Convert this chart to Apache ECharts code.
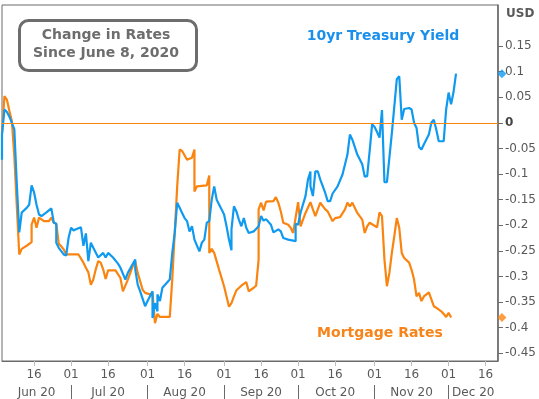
<!DOCTYPE html>
<html>
<head>
<meta charset="utf-8">
<script src="https://cdn.jsdelivr.net/npm/echarts@6/dist/echarts.min.js"></script>
<style>
html, body { margin: 0; padding: 0; background: #fff; }
#chart { width: 539px; height: 399px; }
</style>
</head>
<body>
<div id="chart"></div>
<script>
// 10yr Treasury yield, change since June 8 (dates are 2020 MM-DD)
var tsyDates = ['06-03','06-03','06-04','06-05','06-06','06-07','06-08','06-09','06-10','06-11','06-13','06-14','06-15','06-16','06-17','06-18','06-19','06-21','06-23','06-24','06-25','06-25','06-26','06-28','06-29','06-30',
	'07-01','07-02','07-03','07-05','07-06','07-07','07-08','07-09','07-10','07-12','07-14','07-15','07-16','07-18','07-20','07-21','07-23','07-24','07-27','07-27','07-28','07-29','07-31',
	'08-01','08-03','08-03','08-04','08-05','08-05','08-06','08-07','08-10','08-11','08-12','08-13','08-14','08-15','08-16','08-17','08-18','08-19','08-20','08-22','08-23','08-24','08-25','08-26','08-27','08-28','08-29','08-31',
	'09-01','09-02','09-03','09-04','09-04','09-05','09-06','09-07','09-08','09-09','09-10','09-11','09-13','09-15','09-16','09-17','09-18','09-20','09-21','09-23','09-24','09-25','09-27','09-30','09-30',
	'10-01','10-02','10-04','10-05','10-06','10-06','10-07','10-08','10-09','10-10','10-12','10-13','10-14','10-15','10-17','10-19','10-21','10-22','10-23','10-25','10-27','10-28','10-29','10-30','10-31',
	'11-01','11-02','11-03','11-04','11-05','11-06','11-07','11-08','11-09','11-10','11-11','11-12','11-13','11-15','11-16','11-17','11-18','11-19','11-20','11-21','11-23','11-24','11-25','11-26','11-27','11-29','11-30',
	'12-01','12-02','12-03','12-04'];
var tsyValues = [-0.072,-0.023,0.026,0.021,0.012,0.0,-0.013,-0.12,-0.214,-0.175,-0.166,-0.16,-0.122,-0.136,-0.16,-0.179,-0.182,-0.175,-0.167,-0.195,-0.197,-0.234,-0.244,-0.257,-0.259,-0.224,
	-0.205,-0.21,-0.208,-0.204,-0.24,-0.216,-0.27,-0.234,-0.244,-0.263,-0.254,-0.263,-0.254,-0.263,-0.275,-0.283,-0.306,-0.293,-0.267,-0.286,-0.316,-0.329,-0.358,
	-0.348,-0.329,-0.381,-0.352,-0.368,-0.335,-0.348,-0.322,-0.306,-0.254,-0.215,-0.156,-0.166,-0.176,-0.186,-0.192,-0.212,-0.202,-0.228,-0.251,-0.234,-0.228,-0.195,-0.192,-0.15,-0.124,-0.15,-0.169,
	-0.179,-0.202,-0.228,-0.249,-0.208,-0.163,-0.173,-0.189,-0.202,-0.186,-0.205,-0.215,-0.212,-0.202,-0.182,-0.191,-0.188,-0.199,-0.214,-0.208,-0.212,-0.225,-0.228,-0.231,-0.197,
	-0.199,-0.175,-0.143,-0.111,-0.095,-0.124,-0.143,-0.095,-0.095,-0.111,-0.137,-0.153,-0.153,-0.138,-0.124,-0.101,-0.062,-0.023,-0.033,-0.062,-0.081,-0.105,-0.104,-0.055,-0.003,
	-0.008,-0.018,-0.029,0.025,-0.116,-0.116,-0.068,-0.02,0.032,0.085,0.091,0.006,0.027,0.029,0.026,0.0,-0.01,-0.047,-0.052,-0.042,-0.023,0.0,0.006,-0.013,-0.036,-0.036,0.026,
	0.059,0.036,0.06,0.096];

// Mortgage rates, change since June 8
var mtgDates = ['06-03','06-04','06-05','06-06','06-07','06-08','06-09','06-10','06-11','06-13','06-15','06-15','06-16','06-17','06-18','06-20','06-22','06-23','06-24','06-25','06-26','06-27','06-28','06-29',
	'07-04','07-06','07-07','07-08','07-09','07-10','07-11','07-12','07-13','07-14','07-15','07-16','07-19','07-21','07-22','07-24','07-26','07-27','07-28','07-30','07-31',
	'08-02','08-03','08-04','08-05','08-06','08-10','08-11','08-12','08-13','08-14','08-15','08-17','08-19','08-20','08-20','08-21','08-25','08-26','08-26','08-27','08-28','08-30',
	'09-01','09-02','09-03','09-04','09-05','09-06','09-08','09-10','09-11','09-13','09-14','09-15','09-15','09-16','09-17','09-18','09-21','09-22','09-23','09-24','09-25','09-27','09-28','09-29',
	'10-01','10-02','10-04','10-06','10-07','10-08','10-10','10-12','10-13','10-15','10-16','10-18','10-20','10-21','10-22','10-23','10-25','10-27','10-28','10-29','10-30',
	'11-01','11-02','11-03','11-04','11-05','11-06','11-07','11-08','11-09','11-10','11-11','11-12','11-13','11-15','11-16','11-17','11-18','11-19','11-20','11-21','11-23','11-25','11-26','11-28','11-29','11-30',
	'12-01','12-02'];
var mtgValues = [-0.02,0.052,0.045,0.023,0.003,-0.065,-0.163,-0.257,-0.246,-0.24,-0.233,-0.199,-0.185,-0.205,-0.185,-0.192,-0.192,-0.185,-0.195,-0.197,-0.236,-0.241,-0.247,-0.257,
	-0.257,-0.273,-0.283,-0.292,-0.316,-0.306,-0.286,-0.27,-0.273,-0.286,-0.305,-0.288,-0.288,-0.303,-0.329,-0.306,-0.28,-0.27,-0.293,-0.326,-0.332,
	-0.335,-0.332,-0.391,-0.373,-0.379,-0.379,-0.306,-0.215,-0.124,-0.052,-0.055,-0.072,-0.068,-0.052,-0.134,-0.124,-0.122,-0.103,-0.254,-0.246,-0.254,-0.287,
	-0.319,-0.339,-0.359,-0.352,-0.339,-0.327,-0.318,-0.311,-0.329,-0.322,-0.318,-0.267,-0.169,-0.156,-0.171,-0.154,-0.153,-0.145,-0.156,-0.173,-0.195,-0.199,-0.205,-0.215,
	-0.155,-0.202,-0.176,-0.155,-0.169,-0.182,-0.156,-0.169,-0.173,-0.192,-0.186,-0.184,-0.169,-0.156,-0.163,-0.156,-0.176,-0.189,-0.215,-0.202,-0.195,
	-0.201,-0.204,-0.175,-0.182,-0.267,-0.319,-0.293,-0.254,-0.221,-0.186,-0.205,-0.254,-0.264,-0.273,-0.287,-0.306,-0.339,-0.332,-0.348,-0.339,-0.331,-0.358,-0.361,-0.368,-0.373,-0.379,
	-0.371,-0.38];

var dayTicks = ['06-16','07-01','07-16','08-01','08-16','09-01','09-16','10-01','10-16','11-01','11-16','12-01','12-16'];
var monthStarts = ['07-01','08-01','09-01','10-01','11-01','12-01'];
var monthLabelAt = ['06-17','07-16','08-16','09-16','10-16','11-16','12-11'];
var monthNames = ['Jan','Feb','Mar','Apr','May','Jun','Jul','Aug','Sep','Oct','Nov','Dec'];
var yLabels = [-0.45,-0.4,-0.35,-0.3,-0.25,-0.2,-0.15,-0.1,-0.05,0,0.05,0.1,0.15];

var blue = '#0f9af0', orange = '#fa8410', grey = '#595959';

function ts(s) {
	var p = s.split('-');
	return new Date(2020, +p[0] - 1, +p[1]).getTime();
}
function pairs(dates, values) {
	var out = [];
	for (var i = 0; i < dates.length; i++) out.push([ts(dates[i]), values[i]]);
	return out;
}

var xMin = ts('06-03'), xMax = ts('12-21');

var chart = echarts.init(document.getElementById('chart'));
chart.setOption({
	animation: false,
	grid: {left: 2, right: 39, top: 5, bottom: 38, show: true, borderColor: '#6a6a6a', borderWidth: 1},
	xAxis: [{
		type: 'value', min: xMin, max: xMax, position: 'bottom',
		axisLine: {show: true, onZero: false, lineStyle: {color: '#6a6a6a', width: 1}},
		axisTick: {show: true, customValues: dayTicks.map(ts), length: 5, lineStyle: {color: '#bdbdbd'}},
		axisLabel: {
			customValues: dayTicks.map(ts), margin: 8, color: grey, fontSize: 12, fontFamily: 'DejaVu Sans',
			formatter: function(v) { var d = new Date(v).getDate(); return (d < 10 ? '0' : '') + d; }
		},
		splitLine: {show: false}
	}, {
		type: 'value', min: xMin, max: xMax, position: 'bottom', offset: 24,
		axisLine: {show: false, onZero: false},
		axisTick: {show: true, customValues: monthStarts.map(ts), length: 16, lineStyle: {color: '#6a6a6a'}},
		axisLabel: {
			customValues: monthLabelAt.map(ts), margin: 2, color: grey, fontSize: 12, fontFamily: 'DejaVu Sans',
			formatter: function(v) { return monthNames[new Date(v).getMonth()] + ' 20'; }
		},
		splitLine: {show: false}
	}],
	yAxis: [{
		type: 'value', position: 'right', min: -0.465, max: 0.23,
		axisLine: {show: true, lineStyle: {color: '#6a6a6a', width: 1.5}},
		axisTick: {show: true, customValues: yLabels, length: 5, lineStyle: {color: '#6a6a6a'}},
		axisLabel: {
			customValues: yLabels, margin: 7, color: grey, fontSize: 12, fontFamily: 'DejaVu Sans',
			formatter: function(v) {
				var s = String(parseFloat(v.toFixed(2)));
				return s === '0' ? '{b|0}' : s;
			},
			rich: {b: {fontWeight: 'bold', color: '#444', fontSize: 12, fontFamily: 'DejaVu Sans'}}
		},
		splitLine: {show: false}
	}],
	series: [{
		name: 'Mortgage Rates', type: 'line', showSymbol: false, symbol: 'none',
		lineStyle: {color: orange, width: 2.2}, itemStyle: {color: orange},
		data: pairs(mtgDates, mtgValues),
		markLine: {
			silent: true, symbol: 'none', label: {show: false},
			lineStyle: {color: orange, width: 1, type: 'solid'},
			data: [{yAxis: 0}]
		}
	}, {
		name: '10yr Treasury Yield', type: 'line', showSymbol: false, symbol: 'none',
		lineStyle: {color: blue, width: 2.2}, itemStyle: {color: blue},
		data: pairs(tsyDates, tsyValues)
	}, {
		type: 'scatter', symbol: 'diamond', symbolSize: 9, symbolOffset: [4, 0], clip: false,
		itemStyle: {color: blue},
		data: [[xMax, tsyValues[tsyValues.length - 1]]]
	}, {
		type: 'scatter', symbol: 'diamond', symbolSize: 9, symbolOffset: [4, 0], clip: false,
		itemStyle: {color: orange},
		data: [[xMax, mtgValues[mtgValues.length - 1]]]
	}],
	graphic: [{
		type: 'rect', left: 18, top: 19,
		shape: {width: 177, height: 50, r: 9},
		style: {fill: '#fff', stroke: '#6d6d6d', lineWidth: 3}
	}, {
		type: 'text', x: 106, y: 44,
		style: {
			text: 'Change in Rates\nSince June 8, 2020', fill: '#6d6d6d', align: 'center', verticalAlign: 'middle',
			font: 'bold 14px "DejaVu Sans"', lineHeight: 18
		}
	}, {
		type: 'text', x: 383, y: 36,
		style: {text: '10yr Treasury Yield', fill: '#1a90ec', align: 'center', verticalAlign: 'middle', font: 'bold 14px "DejaVu Sans"'}
	}, {
		type: 'text', x: 380, y: 333,
		style: {text: 'Mortgage Rates', fill: '#f7841a', align: 'center', verticalAlign: 'middle', font: 'bold 14px "DejaVu Sans"'}
	}, {
		type: 'text', x: 506, y: 14,
		style: {text: 'USD', fill: grey, align: 'left', verticalAlign: 'middle', font: 'bold 12px "DejaVu Sans"'}
	}]
});
</script>
</body>
</html>
